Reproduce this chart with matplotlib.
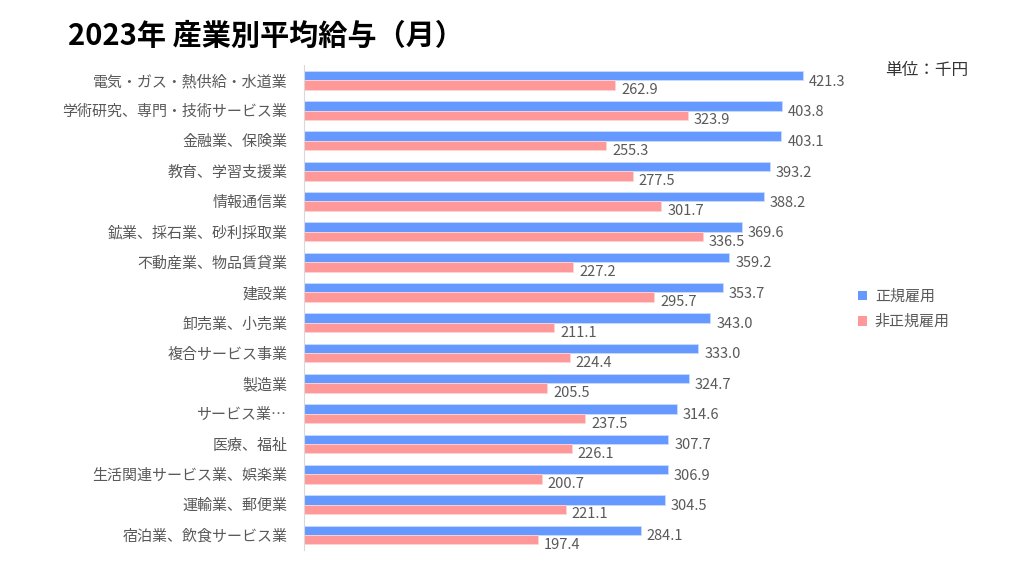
import numpy as np
import matplotlib
matplotlib.use("Agg")
import matplotlib.pyplot as plt
from matplotlib.patches import Patch

plt.rcParams['font.family'] = ['Noto Sans CJK JP', 'DejaVu Sans']

industries = [
    '電気・ガス・熱供給・水道業', '学術研究、専門・技術サービス業', '金融業、保険業',
    '教育、学習支援業', '情報通信業', '鉱業、採石業、砂利採取業', '不動産業、物品賃貸業',
    '建設業', '卸売業、小売業', '複合サービス事業', '製造業', 'サービス業…',
    '医療、福祉', '生活関連サービス業、娯楽業', '運輸業、郵便業', '宿泊業、飲食サービス業',
]
regular = [421.3, 403.8, 403.1, 393.2, 388.2, 369.6, 359.2, 353.7,
           343.0, 333.0, 324.7, 314.6, 307.7, 306.9, 304.5, 284.1]
non_regular = [262.9, 323.9, 255.3, 277.5, 301.7, 336.5, 227.2, 295.7,
               211.1, 224.4, 205.5, 237.5, 226.1, 200.7, 221.1, 197.4]

blue = '#6699FF'
pink = '#FF9999'
gray = '#595959'

fig = plt.figure(figsize=(10.24, 5.76), dpi=100)
ax = fig.add_axes([0.297, 0.045, 0.54, 0.842])

y = np.arange(len(industries))
h = 0.31
ax.barh(y - h / 2, regular, height=h, color=blue, edgecolor='#c9dbff', linewidth=0.6)
ax.barh(y + h / 2, non_regular, height=h, color=pink, edgecolor='#ffd4d4', linewidth=0.6)

# value labels: blue one next to its bar, pink one a bit lower so they don't collide
for yi, v in zip(y, regular):
    ax.text(v + 5, yi - h / 2 + 0.2, f'{v:.1f}', va='center', ha='left', fontsize=10.5, color=gray)
for yi, v in zip(y, non_regular):
    ax.text(v + 5, yi + h / 2 + 0.17, f'{v:.1f}', va='center', ha='left', fontsize=10.5, color=gray)

ax.set_yticks(y)
ax.set_yticklabels(industries, fontsize=10.8, color=gray)
ax.set_ylim(len(industries) - 0.5, -0.5)
ax.set_xlim(0, 467)
ax.set_xticks([])
ax.tick_params(axis='y', length=0, pad=12)
for s in ['top', 'right', 'bottom']:
    ax.spines[s].set_visible(False)
ax.spines['left'].set_color('#d9d9d9')

fig.text(0.066, 0.938, '2023年 産業別平均給与（月）', fontsize=21, fontweight='bold', va='center')
fig.text(0.864, 0.878, '単位：千円', fontsize=12, color='#333333', va='center')

handles = [Patch(facecolor=blue, label='正規雇用'), Patch(facecolor=pink, label='非正規雇用')]
fig.legend(handles=handles, loc='center left', bbox_to_anchor=(0.825, 0.463), frameon=False,
           fontsize=10.8, labelcolor=gray, handlelength=0.6, handleheight=0.6, handletextpad=0.5,
           labelspacing=0.75)

fig.savefig('out.png', dpi=100)
